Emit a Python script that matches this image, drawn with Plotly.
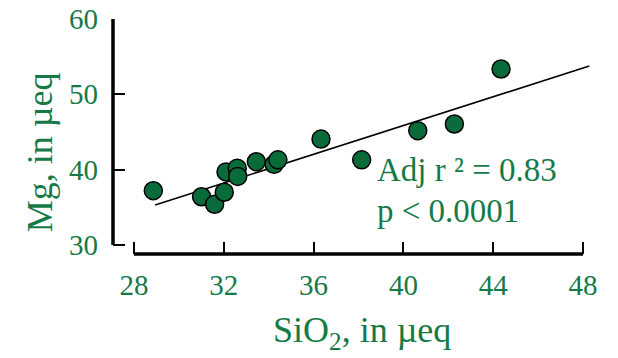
import plotly.graph_objects as go

# Data
sio2 = [28.86, 31.01, 31.59, 32.02, 32.10, 32.60, 32.62, 33.45, 34.24, 34.41, 36.33, 38.14, 40.64, 42.27, 44.35]
mg   = [37.2, 36.4, 35.4, 37.0, 39.7, 40.2, 39.1, 41.05, 40.7, 41.3, 44.06, 41.3, 45.17, 46.06, 53.36]
fit_x = [28.94, 48.28]
fit_y = [35.3, 53.76]
x_ticks = [28, 32, 36, 40, 44, 48]
y_ticks = [30, 40, 50, 60]

GREEN_TXT = "#157a47"
GREEN_PT = "#0a6b3a"
FONT = "Liberation Serif"

fig = go.Figure()
fig.add_trace(go.Scatter(x=fit_x, y=fit_y, mode="lines",
                         line=dict(color="black", width=1.6), showlegend=False, hoverinfo="skip"))
fig.add_trace(go.Scatter(x=sio2, y=mg, mode="markers",
                         marker=dict(size=18, color=GREEN_PT, line=dict(color="black", width=1.5)),
                         showlegend=False))

# range-frame axis lines
fig.add_shape(type="line", xref="x", yref="paper", x0=x_ticks[0], x1=x_ticks[-1], y0=0, y1=0,
              line=dict(color="black", width=3.5))
fig.add_shape(type="line", xref="paper", yref="y", x0=0, x1=0, y0=y_ticks[0], y1=y_ticks[-1],
              line=dict(color="black", width=3.5))

fig.update_layout(
    width=618, height=358,
    margin=dict(l=113, r=26, t=19, b=104, autoexpand=False),
    plot_bgcolor="white", paper_bgcolor="white",
    font=dict(family=FONT, color=GREEN_TXT),
    xaxis=dict(range=[27.065, 48.4], tickvals=x_ticks, ticks="inside", ticklen=12, tickwidth=2,
               tickcolor="black", showline=False, showgrid=False, zeroline=False, automargin=False,
               tickfont=dict(size=29, family=FONT, color=GREEN_TXT), ticklabelstandoff=11),
    yaxis=dict(range=[28.8, 60], tickvals=y_ticks, ticks="inside", ticklen=12, tickwidth=2,
               tickcolor="black", showline=False, showgrid=False, zeroline=False, automargin=False,
               tickfont=dict(size=29, family=FONT, color=GREEN_TXT), ticklabelstandoff=14),
    annotations=[
        dict(text="SiO<sub>2</sub>, in µeq", xref="x", yref="paper", x=38.16, y=-0.336,
             xanchor="center", yanchor="middle", showarrow=False,
             font=dict(size=36, family=FONT, color=GREEN_TXT)),
        dict(text="Mg, in µeq", xref="paper", yref="paper", x=-0.152, y=0.434, textangle=-90,
             xanchor="center", yanchor="middle", showarrow=False,
             font=dict(size=36, family=FONT, color=GREEN_TXT)),
        dict(text="Adj r ² = 0.83", xref="x", yref="y", x=38.75, y=39.9,
             xanchor="left", yanchor="middle", showarrow=False,
             font=dict(size=33, family=FONT, color=GREEN_TXT)),
        dict(text="p < 0.0001", xref="x", yref="y", x=38.75, y=34.5,
             xanchor="left", yanchor="middle", showarrow=False,
             font=dict(size=33, family=FONT, color=GREEN_TXT)),
    ],
)

fig.write_html("out.html")
